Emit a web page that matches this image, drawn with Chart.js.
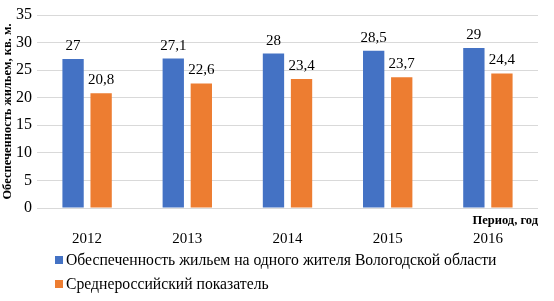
<!DOCTYPE html>
<html><head><meta charset="utf-8">
<script src="https://cdn.jsdelivr.net/npm/chart.js@4/dist/chart.umd.min.js"></script>
<style>html,body{margin:0;padding:0;background:#fff}#wrap{width:554px;height:301px}</style>
</head><body><div id="wrap"><canvas id="c" width="554" height="301"></canvas></div>
<script>
const categories = ['2012','2013','2014','2015','2016'];
const seriesVologda = [27, 27.1, 28, 28.5, 29];
const seriesRussia = [20.8, 22.6, 23.4, 23.7, 24.4];
const seriesNames = ['Обеспеченность жильем на одного жителя Вологодской области','Среднероссийский показатель'];
const yTitle = 'Обеспеченность жильем, кв. м.';
const xTitle = 'Период, год';
const SERIF = "'Liberation Serif', serif";

const labelsPlugin = {
  id:'labels',
  afterDatasetsDraw(chart){
    const ctx = chart.ctx;
    ctx.save();
    ctx.font = "15px 'Liberation Serif', serif";
    ctx.fillStyle = '#000';
    ctx.textAlign = 'center';
    ctx.textBaseline = 'alphabetic';
    chart.data.datasets.forEach((ds, i) => {
      chart.getDatasetMeta(i).data.forEach((bar, j) => {
        ctx.fillText(String(ds.data[j]).replace('.', ','), bar.x, bar.y - 9);
      });
    });
    // x axis title
    ctx.font = "bold 12.5px 'Liberation Serif', serif";
    ctx.textAlign = 'right';
    ctx.fillText(xTitle, chart.chartArea.right, 224);
    // legend
    ctx.font = "15.7px 'Liberation Serif', serif";
    ctx.textAlign = 'left';
    ctx.textBaseline = 'middle';
    const rows = [260, 284];
    chart.data.datasets.forEach((ds, i) => {
      ctx.fillStyle = ds.backgroundColor;
      ctx.fillRect(55, rows[i] - 4, 8, 8);
      ctx.fillStyle = '#000';
      ctx.fillText(ds.label, 66, rows[i] + 1);
    });
    ctx.restore();
  }
};

function draw(){
new Chart(document.getElementById('c'), {
  type:'bar',
  data:{
    labels: categories,
    datasets:[
      {label: seriesNames[0], data: seriesVologda, backgroundColor:'#4472C4', categoryPercentage:0.56, barPercentage:0.76},
      {label: seriesNames[1], data: seriesRussia, backgroundColor:'#ED7D31', categoryPercentage:0.56, barPercentage:0.76}
    ]
  },
  options:{
    responsive:false,
    animation:false,
    layout:{padding:{top:15, right:16, left:0, bottom:0}},
    plugins:{legend:{display:false}, tooltip:{enabled:false}},
    scales:{
      x:{
        grid:{display:false, drawTicks:false},
        border:{display:false},
        ticks:{color:'#000', font:{family:SERIF, size:15}, padding:22},
        afterFit(s){ s.height = 93; }
      },
      y:{
        min:0, max:35,
        ticks:{stepSize:5, color:'#000', font:{family:SERIF, size:16}, padding:5},
        grid:{color:'#d9d9d9', drawTicks:false},
        border:{display:false},
        title:{display:true, text:yTitle, color:'#000', font:{family:SERIF, size:12.5, weight:'bold'}, padding:{top:0,bottom:1}},
        afterFit(s){ s.width = 37; }
      }
    }
  },
  plugins:[labelsPlugin]
});
}
Promise.all([
  document.fonts.load("15px 'Liberation Serif'"),
  document.fonts.load("bold 15px 'Liberation Serif'")
]).then(draw, draw);
</script></body></html>
